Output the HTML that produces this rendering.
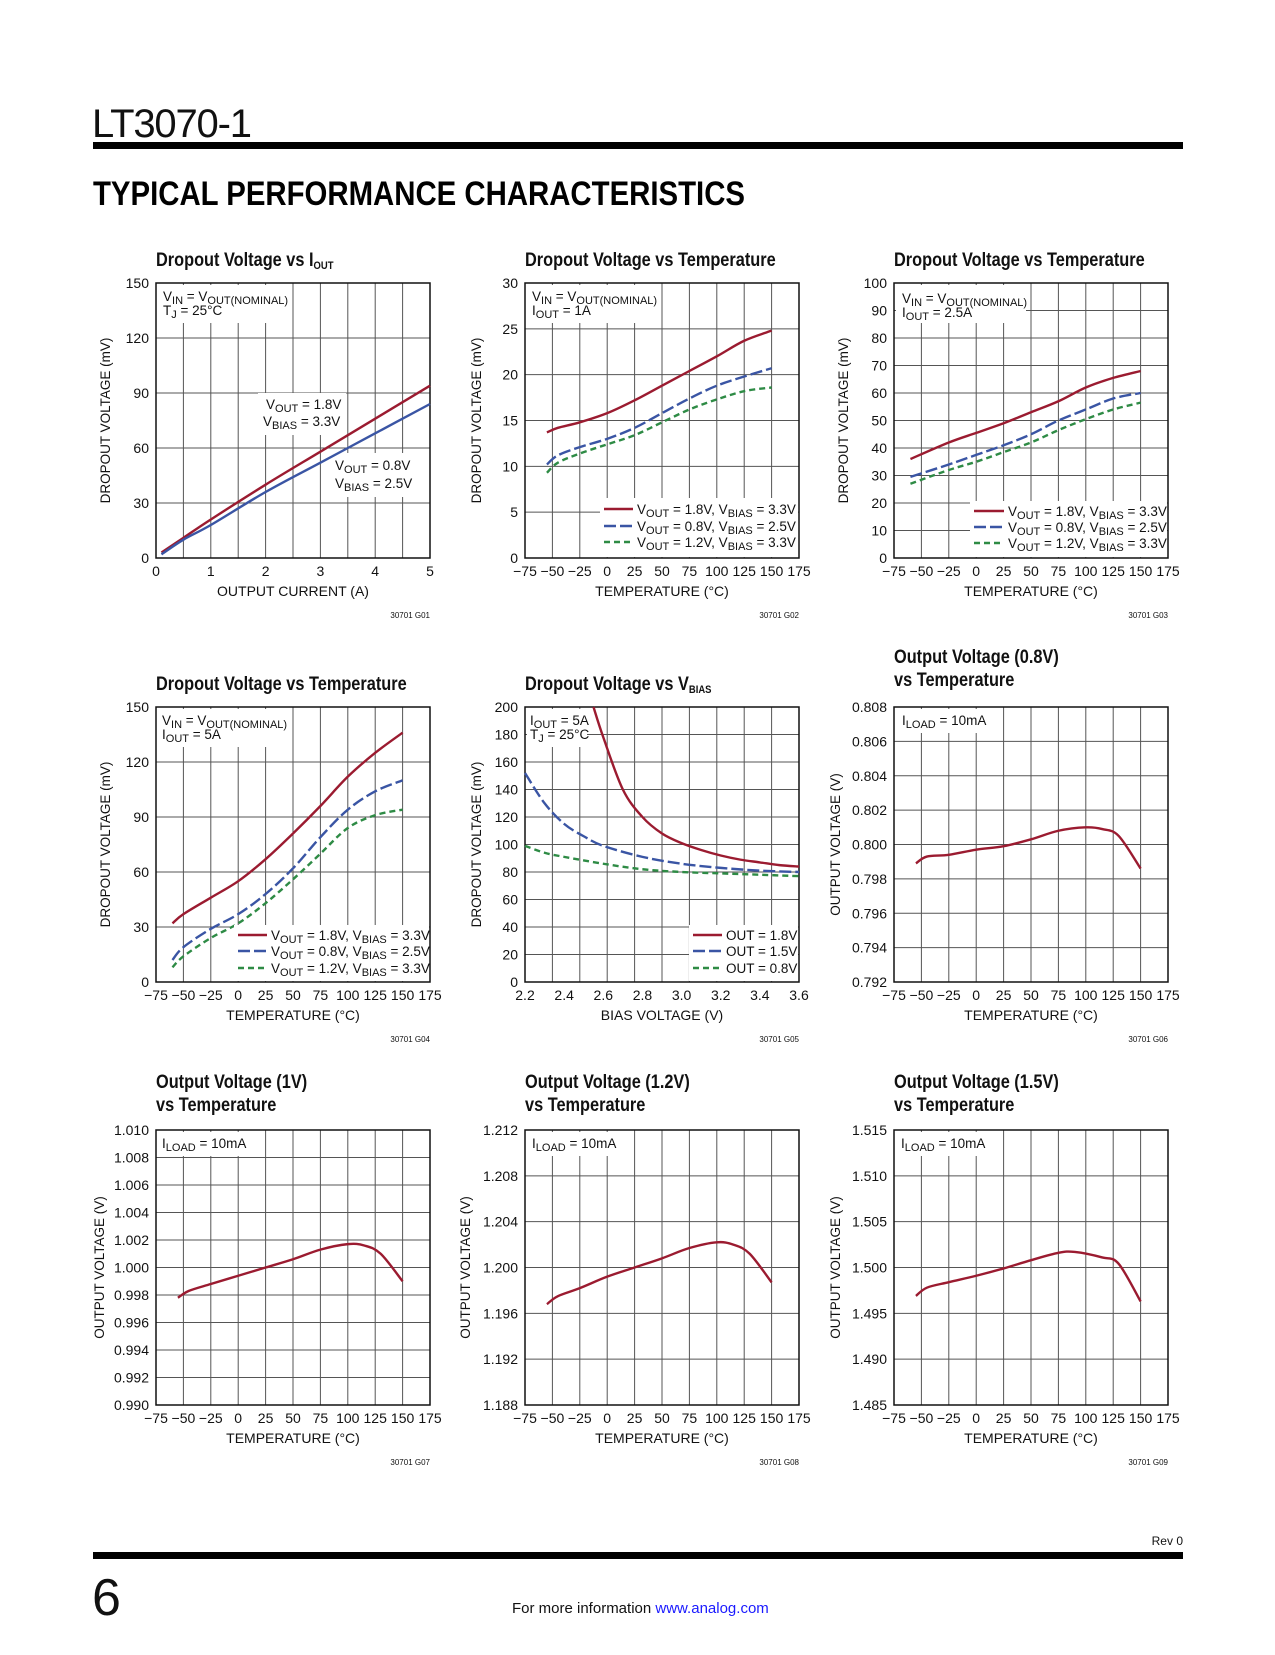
<!DOCTYPE html>
<html><head><meta charset="utf-8">
<style>
html,body{margin:0;padding:0;background:#fff;}
body{width:1275px;height:1650px;position:relative;overflow:hidden;font-family:"Liberation Sans Narrow","Liberation Sans",sans-serif;}
svg text{font-family:"Liberation Sans Narrow","Liberation Sans",sans-serif;}
</style></head>
<body>
<svg id="page" width="1275" height="1650" viewBox="0 0 1275 1650" xmlns="http://www.w3.org/2000/svg">
<text x="92" y="137" font-size="40" font-weight="300" fill="#111" style="font-family:'Liberation Sans',sans-serif" textLength="160">LT3070-1</text>
<rect x="93" y="142" width="1090" height="7" fill="#000"/>
<text x="93" y="205" font-size="34" font-weight="bold" fill="#000" style="font-family:'Liberation Sans',sans-serif" textLength="652" lengthAdjust="spacingAndGlyphs">TYPICAL PERFORMANCE CHARACTERISTICS</text>
<text x="1183" y="1545" font-size="12" text-anchor="end" fill="#111">Rev 0</text>
<rect x="93" y="1552" width="1090" height="7" fill="#000"/>
<text x="92" y="1615" font-size="52" font-weight="300" fill="#111" style="font-family:'Liberation Sans',sans-serif">6</text>
<text x="512" y="1613" font-size="15" fill="#111">For more information <tspan fill="#1a1aff">www.analog.com</tspan></text>
<g id="charts"></g>
</svg>
<script>
// ---------- DATA ----------
var c1X = [0.1,0.5,1,2,3,4,5];
var c1Red = [3,11,21,40,58,76,94];
var c1Blue = [2,10,18,36,52,68,84];

var c2T = [-55,-45,-25,0,25,50,75,100,125,150];
var c2Red = [13.7,14.2,14.8,15.8,17.2,18.8,20.4,22,23.7,24.8];
var c2Blue = [10.2,11.2,12.1,13,14.2,15.8,17.4,18.8,19.8,20.7];
var c2Green = [9.3,10.4,11.4,12.4,13.4,14.8,16.2,17.3,18.2,18.6];

var c3T = [-60,-25,0,25,50,75,100,125,150];
var c3Red = [36,42,45.5,49,53,57,62,65.5,68];
var c3Blue = [29.5,34,37.5,41,45,50,54,58,60];
var c3Green = [27,32,35,38.5,42,46.5,50.5,54,56.5];

var c4T = [-60,-50,-25,0,25,50,75,100,125,150];
var c4Red = [32,37,46,55,67,81,96,112,125,136];
var c4Blue = [12,19,29,37,48,62,79,94,104,110];
var c4Green = [8,14,24,32,43,56,70,84,91,94];

var c5RedX = [2.55,2.6,2.7,2.8,2.9,3.0,3.1,3.2,3.3,3.4,3.5,3.6];
var c5Red = [200,178,140,120,108,101,96,92,89,87,85,84];
var c5BlueX = [2.2,2.3,2.4,2.5,2.6,2.8,3.0,3.2,3.4,3.6];
var c5Blue = [152,130,115,106,99,91,86,83,81,80];
var c5GreenX = [2.2,2.3,2.4,2.6,2.8,3.0,3.2,3.4,3.6];
var c5Green = [99,94,91,86,82,80,79,78,77];

var c6T = [-55,-45,-25,0,25,50,75,100,115,130,150];
var c6V = [0.7989,0.7993,0.7994,0.7997,0.7999,0.8003,0.8008,0.8010,0.8009,0.8005,0.7986];
var c7T = [-55,-45,-25,0,25,50,75,100,115,130,150];
var c7V = [0.9978,0.9983,0.9988,0.9994,1.0000,1.0006,1.0013,1.0017,1.0016,1.0010,0.9990];
var c8T = [-55,-45,-25,0,25,50,75,100,115,130,150];
var c8V = [1.1968,1.1975,1.1982,1.1992,1.2000,1.2008,1.2017,1.2022,1.2020,1.2012,1.1987];
var c9T = [-55,-45,-25,0,25,50,75,90,115,130,150];
var c9V = [1.4969,1.4978,1.4984,1.4991,1.4999,1.5008,1.5016,1.5017,1.5011,1.5004,1.4963];

var tempTicks = [-75,-50,-25,0,25,50,75,100,125,150,175];
var tempLabels = ["\u221275","\u221250","\u221225","0","25","50","75","100","125","150","175"];
var c1XTicks = [0,1,2,3,4,5];
var c1YTicks = [0,30,60,90,120,150];
var c2YTicks = [0,5,10,15,20,25,30];
var c3YTicks = [0,10,20,30,40,50,60,70,80,90,100];
var c4YTicks = [0,30,60,90,120,150];
var c5XTicks = [2.2,2.4,2.6,2.8,3.0,3.2,3.4,3.6];
var c5XLabels = ["2.2","2.4","2.6","2.8","3.0","3.2","3.4","3.6"];
var c5YTicks = [0,20,40,60,80,100,120,140,160,180,200];
var c6YTicks = [0.792,0.794,0.796,0.798,0.800,0.802,0.804,0.806,0.808];
var c7YTicks = [0.990,0.992,0.994,0.996,0.998,1.000,1.002,1.004,1.006,1.008,1.010];
var c8YTicks = [1.188,1.192,1.196,1.200,1.204,1.208,1.212];
var c9YTicks = [1.485,1.490,1.495,1.500,1.505,1.510,1.515];

// ---------- RENDER ----------
var NS = "http://www.w3.org/2000/svg";
var root = document.getElementById('charts');
var RED = "#9b1b30", BLUE = "#3a55a4", GREEN = "#2e8b45";
var W = 274, H = 275;

function mk(tag, attrs, parent){
  var e = document.createElementNS(NS, tag);
  for (var k in attrs) e.setAttribute(k, attrs[k]);
  parent.appendChild(e);
  return e;
}
function subText(str){
  return str.replace(/\{([^}]*)\}/g, '<tspan dy="3" font-size="11">$1</tspan><tspan dy="-3">\u200b</tspan>');
}
function smoothPath(pts){
  var d = "M" + pts[0][0].toFixed(2) + "," + pts[0][1].toFixed(2);
  for (var i = 0; i < pts.length - 1; i++){
    var p0 = pts[i-1] || pts[i], p1 = pts[i], p2 = pts[i+1], p3 = pts[i+2] || p2;
    var c1x = p1[0] + (p2[0]-p0[0])/6, c1y = p1[1] + (p2[1]-p0[1])/6;
    var c2x = p2[0] - (p3[0]-p1[0])/6, c2y = p2[1] - (p3[1]-p1[1])/6;
    d += " C" + c1x.toFixed(2)+","+c1y.toFixed(2)+" "+c2x.toFixed(2)+","+c2y.toFixed(2)+" "+p2[0].toFixed(2)+","+p2[1].toFixed(2);
  }
  return d;
}

function chart(cfg){
  var g = mk('g', {}, root);
  
  
  var L = cfg.left, T = cfg.top, B = T + H, R = L + W;
  var sx = function(v){ return L + (v - cfg.xMin)/(cfg.xMax - cfg.xMin)*W; };
  var sy = function(v){ return B - (v - cfg.yMin)/(cfg.yMax - cfg.yMin)*H; };

  for (var i = 0; i < cfg.title.length; i++){
    var t = mk('text', {x: 0, y: 0, 'font-size': 19, 'font-weight': 'bold', fill: '#111', transform: 'translate(' + L + ',' + (cfg.titleY + i*23) + ') scale(0.86,1)'}, g);
    
    
    t.innerHTML = subText(cfg.title[i]);
  }
  var gg = mk('g', {stroke: '#555', 'stroke-width': 1}, g);
  
  
  for (var i = 1; i < cfg.xDiv; i++){
    var x = L + W*i/cfg.xDiv;
    mk('line', {x1: x, y1: T, x2: x, y2: B}, gg);
  }
  for (var i = 1; i < cfg.yDiv; i++){
    var y = T + H*i/cfg.yDiv;
    mk('line', {x1: L, y1: y, x2: R, y2: y}, gg);
  }
  (cfg.boxes || []).forEach(function(b){
    var r = mk('rect', {x: L + b[0], y: T + b[1], width: b[2], height: b[3], fill: '#fff'}, g);
    
    
  });
  var fr = mk('rect', {x: L, y: T, width: W, height: H, fill: 'none', stroke: '#111', 'stroke-width': 1.5}, g);
  
  
  cfg.yTicks.forEach(function(v){
    var t = mk('text', {x: L - 7, y: sy(v) + 5, 'font-size': 14, 'text-anchor': 'end', fill: '#111'}, g);
    
    
    t.textContent = cfg.yFmt ? cfg.yFmt(v) : String(v);
  });
  cfg.xTicks.forEach(function(v, i){
    var t = mk('text', {x: sx(v), y: B + 18, 'font-size': 14, 'text-anchor': 'middle', fill: '#111'}, g);
    
    
    t.textContent = cfg.xLabels[i];
  });
  var xt = mk('text', {x: L + W/2, y: B + 38, 'font-size': 14, 'text-anchor': 'middle', fill: '#111'}, g);
  
  
  xt.textContent = cfg.xTitle;
  var yx = L - cfg.yTitleOff, yy = T + H/2;
  var yt = mk('text', {x: yx, y: yy, 'font-size': 13.5, 'text-anchor': 'middle', fill: '#111', transform: 'rotate(-90 ' + yx + ' ' + yy + ')'}, g);
  
  
  yt.textContent = cfg.yTitle;
  var fc = mk('text', {x: R, y: B + 60, 'font-size': 8, 'text-anchor': 'end', fill: '#111'}, g);
  
  
  fc.textContent = cfg.code;
  (cfg.notes || []).forEach(function(n){
    var t = mk('text', {x: L + n[0], y: T + n[1], 'font-size': 13.5, fill: '#111'}, g);
    
    
    t.innerHTML = subText(n[2]);
  });
  cfg.series.forEach(function(s){
    var pts = s.x.map(function(xv, i){ return [sx(xv), sy(s.y[i])]; });
    var p = mk('path', {d: smoothPath(pts), fill: 'none', stroke: s.color, 'stroke-width': 2.4, 'stroke-linecap': 'butt'}, g);
    if (s.dash) p.setAttribute('stroke-dasharray', s.dash);
    
    
  });
  if (cfg.legend){
    var lg = cfg.legend;
    var lgG = mk('g', {}, g);
    
    
    mk('rect', {x: L + lg.x0 - 4, y: B - lg.h, width: R - (L + lg.x0 - 4) - 1, height: lg.h - 1, fill: '#fff'}, lgG);
    lg.items.forEach(function(it, i){
      var y = B + lg.ys[i];
      var ln = mk('line', {x1: L + lg.x0, y1: y, x2: L + lg.x1, y2: y, stroke: it.color, 'stroke-width': 2.6}, lgG);
      if (it.dash) ln.setAttribute('stroke-dasharray', it.dash);
      
      
      var t = mk('text', {x: L + lg.x1 + 4, y: y + 5, 'font-size': 13.5, fill: '#111'}, lgG);
      
      
      t.innerHTML = subText(it.label);
    });
  }
}

var tempTitle = "TEMPERATURE (\u00b0C)";
var dropTitle = "DROPOUT VOLTAGE (mV)";
var outTitle = "OUTPUT VOLTAGE (V)";
var f3 = function(v){ return v.toFixed(3); };
var leg3 = [
  {color: RED, label: "V{OUT} = 1.8V, V{BIAS} = 3.3V"},
  {color: BLUE, dash: "12,4", label: "V{OUT} = 0.8V, V{BIAS} = 2.5V"},
  {color: GREEN, dash: "6,4", label: "V{OUT} = 1.2V, V{BIAS} = 3.3V"}
];
var cols = [156, 525, 894];
var rows = [283, 707, 1130];

chart({name:'chart-dropout-vs-iout', left: cols[0], top: rows[0], titleY: 266, title:["Dropout Voltage vs I{OUT}"],
  xMin:0, xMax:5, xDiv:10, yMin:0, yMax:150, yDiv:5, xTicks:c1XTicks, xLabels:c1XTicks.map(String), yTicks:c1YTicks,
  xTitle:"OUTPUT CURRENT (A)", yTitle:dropTitle, yTitleOff:46, code:"30701 G01",
  boxes:[[2,2,128,38],[102,110,88,42],[174,170,92,44]],
  notes:[[7,18,"V{IN} = V{OUT(NOMINAL)}"],[7,32,"T{J} = 25\u00b0C"],[110,126,"V{OUT} = 1.8V"],[107,143,"V{BIAS} = 3.3V"],[179,187,"V{OUT} = 0.8V"],[179,205,"V{BIAS} = 2.5V"]],
  series:[{name:'series-vout-1v8', x:c1X, y:c1Red, color:RED},{name:'series-vout-0v8', x:c1X, y:c1Blue, color:BLUE}]});

chart({name:'chart-dropout-vs-temp-1a', left: cols[1], top: rows[0], titleY: 266, title:["Dropout Voltage vs Temperature"],
  xMin:-75, xMax:175, xDiv:10, yMin:0, yMax:30, yDiv:6, xTicks:tempTicks, xLabels:tempLabels, yTicks:c2YTicks,
  xTitle:tempTitle, yTitle:dropTitle, yTitleOff:44, code:"30701 G02",
  boxes:[[2,2,125,38]], notes:[[7,18,"V{IN} = V{OUT(NOMINAL)}"],[7,32,"I{OUT} = 1A"]],
  series:[{name:'series-vout-1v8', x:c2T, y:c2Red, color:RED},{name:'series-vout-0v8', x:c2T, y:c2Blue, color:BLUE, dash:"12,4"},{name:'series-vout-1v2', x:c2T, y:c2Green, color:GREEN, dash:"6,4"}],
  legend:{x0:79, x1:108, h:60, ys:[-49,-32,-16], items:leg3}});

chart({name:'chart-dropout-vs-temp-2a5', left: cols[2], top: rows[0], titleY: 266, title:["Dropout Voltage vs Temperature"],
  xMin:-75, xMax:175, xDiv:10, yMin:0, yMax:100, yDiv:10, xTicks:tempTicks, xLabels:tempLabels, yTicks:c3YTicks,
  xTitle:tempTitle, yTitle:dropTitle, yTitleOff:46, code:"30701 G03",
  boxes:[[2,2,130,38]], notes:[[8,20,"V{IN} = V{OUT(NOMINAL)}"],[8,34,"I{OUT} = 2.5A"]],
  series:[{name:'series-vout-1v8', x:c3T, y:c3Red, color:RED},{name:'series-vout-0v8', x:c3T, y:c3Blue, color:BLUE, dash:"12,4"},{name:'series-vout-1v2', x:c3T, y:c3Green, color:GREEN, dash:"6,4"}],
  legend:{x0:80, x1:110, h:57, ys:[-47,-31,-15], items:leg3}});

chart({name:'chart-dropout-vs-temp-5a', left: cols[0], top: rows[1], titleY: 690, title:["Dropout Voltage vs Temperature"],
  xMin:-75, xMax:175, xDiv:10, yMin:0, yMax:150, yDiv:5, xTicks:tempTicks, xLabels:tempLabels, yTicks:c4YTicks,
  xTitle:tempTitle, yTitle:dropTitle, yTitleOff:46, code:"30701 G04",
  boxes:[[2,2,128,38]], notes:[[6,18,"V{IN} = V{OUT(NOMINAL)}"],[6,32,"I{OUT} = 5A"]],
  series:[{name:'series-vout-1v8', x:c4T, y:c4Red, color:RED},{name:'series-vout-0v8', x:c4T, y:c4Blue, color:BLUE, dash:"12,4"},{name:'series-vout-1v2', x:c4T, y:c4Green, color:GREEN, dash:"6,4"}],
  legend:{x0:82, x1:111, h:57, ys:[-47,-31,-14], items:leg3}});

chart({name:'chart-dropout-vs-vbias', left: cols[1], top: rows[1], titleY: 690, title:["Dropout Voltage vs V{BIAS}"],
  xMin:2.2, xMax:3.6, xDiv:10, yMin:0, yMax:200, yDiv:10, xTicks:c5XTicks, xLabels:c5XLabels, yTicks:c5YTicks,
  xTitle:"BIAS VOLTAGE (V)", yTitle:dropTitle, yTitleOff:44, code:"30701 G05",
  boxes:[[2,2,60,38]], notes:[[5,18,"I{OUT} = 5A"],[5,32,"T{J} = 25\u00b0C"]],
  series:[{name:'series-vout-1v8', x:c5RedX, y:c5Red, color:RED},{name:'series-vout-1v5', x:c5BlueX, y:c5Blue, color:BLUE, dash:"12,4"},{name:'series-vout-0v8', x:c5GreenX, y:c5Green, color:GREEN, dash:"6,4"}],
  legend:{x0:168, x1:197, h:57, ys:[-47,-31,-14], items:[{color:RED,label:"OUT = 1.8V"},{color:BLUE,dash:"12,4",label:"OUT = 1.5V"},{color:GREEN,dash:"6,4",label:"OUT = 0.8V"}]}});

chart({name:'chart-vout-0v8-vs-temp', left: cols[2], top: rows[1], titleY: 663, title:["Output Voltage (0.8V)","vs Temperature"],
  xMin:-75, xMax:175, xDiv:10, yMin:0.792, yMax:0.808, yDiv:8, xTicks:tempTicks, xLabels:tempLabels, yTicks:c6YTicks, yFmt:f3,
  xTitle:tempTitle, yTitle:outTitle, yTitleOff:54, code:"30701 G06",
  boxes:[[2,2,82,24]], notes:[[8,18,"I{LOAD} = 10mA"]],
  series:[{name:'series-vout', x:c6T, y:c6V, color:RED}]});

chart({name:'chart-vout-1v-vs-temp', left: cols[0], top: rows[2], titleY: 1088, title:["Output Voltage (1V)","vs Temperature"],
  xMin:-75, xMax:175, xDiv:10, yMin:0.990, yMax:1.010, yDiv:10, xTicks:tempTicks, xLabels:tempLabels, yTicks:c7YTicks, yFmt:f3,
  xTitle:tempTitle, yTitle:outTitle, yTitleOff:52, code:"30701 G07",
  boxes:[[2,2,82,24]], notes:[[6,18,"I{LOAD} = 10mA"]],
  series:[{name:'series-vout', x:c7T, y:c7V, color:RED}]});

chart({name:'chart-vout-1v2-vs-temp', left: cols[1], top: rows[2], titleY: 1088, title:["Output Voltage (1.2V)","vs Temperature"],
  xMin:-75, xMax:175, xDiv:10, yMin:1.188, yMax:1.212, yDiv:6, xTicks:tempTicks, xLabels:tempLabels, yTicks:c8YTicks, yFmt:f3,
  xTitle:tempTitle, yTitle:outTitle, yTitleOff:55, code:"30701 G08",
  boxes:[[2,2,82,24]], notes:[[7,18,"I{LOAD} = 10mA"]],
  series:[{name:'series-vout', x:c8T, y:c8V, color:RED}]});

chart({name:'chart-vout-1v5-vs-temp', left: cols[2], top: rows[2], titleY: 1088, title:["Output Voltage (1.5V)","vs Temperature"],
  xMin:-75, xMax:175, xDiv:10, yMin:1.485, yMax:1.515, yDiv:6, xTicks:tempTicks, xLabels:tempLabels, yTicks:c9YTicks, yFmt:f3,
  xTitle:tempTitle, yTitle:outTitle, yTitleOff:54, code:"30701 G09",
  boxes:[[2,2,82,24]], notes:[[7,18,"I{LOAD} = 10mA"]],
  series:[{name:'series-vout', x:c9T, y:c9V, color:RED}]});
</script>
</body></html>
